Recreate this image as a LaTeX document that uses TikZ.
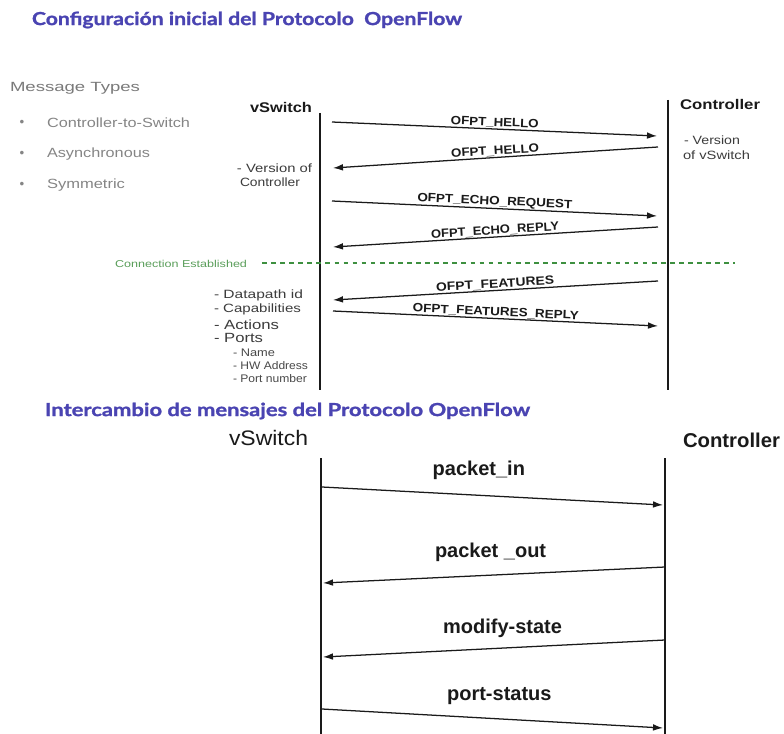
\documentclass[tikz,border=0pt]{standalone}
\usepackage{graphicx}
\usepackage{fontspec}
\setmainfont{Liberation Sans}
\newfontfamily\headfont{Lato}[BoldFeatures={FakeBold=1.2}]
\usetikzlibrary{arrows.meta}

% 1 px = 0.75 pt; \fitw stretches a text to a given width in px, height kept
\newdimen\pxu \pxu=0.75pt
\newcommand\fitw[2]{\resizebox{#1\pxu}{\height}{#2}}

\definecolor{titleblue}{HTML}{4A44B2}
\definecolor{mtgray}{HTML}{7A7A7A}
\definecolor{itemgray}{HTML}{858585}
\definecolor{estgreen}{HTML}{5A9E5A}
\definecolor{dotgreen}{HTML}{3E9040}
\definecolor{ink}{HTML}{1A1A1A}

\begin{document}
\begin{tikzpicture}[x=0.75pt,y=-0.75pt,
  txt/.style={inner sep=0pt, outer sep=0pt},
  heading/.style={txt, anchor=west, text=titleblue,
    font=\headfont\bfseries\fontsize{13.5}{15}\selectfont},
  graytxt/.style={txt, anchor=west, text=mtgray, font=\fontsize{10}{11}\selectfont},
  itemtxt/.style={txt, anchor=west, text=itemgray, font=\fontsize{10}{11}\selectfont},
  bulletdot/.style={txt, text=itemgray, font=\fontsize{10}{11}\selectfont},
  actor/.style={txt, text=ink, font=\bfseries\fontsize{10.5}{12}\selectfont},
  note/.style={txt, text=ink!85, font=\fontsize{9}{10}\selectfont},
  bignote/.style={txt, anchor=west, text=ink!85, font=\fontsize{10}{11}\selectfont},
  subnote/.style={txt, anchor=west, text=ink!80, font=\fontsize{8.25}{9}\selectfont},
  lifetop/.style={line width=1.9pt, ink},
  msgtop/.style={line width=0.95pt, ink, -{Latex[length=7.5pt,width=5pt]}},
  toplbl/.style={midway, sloped, above=0.5pt, inner sep=0pt, text=ink,
    font=\bfseries\fontsize{9}{10}\selectfont},
  lifebot/.style={line width=0.9pt, ink},
  msgbot/.style={line width=0.95pt, ink, -{Latex[length=7.5pt,width=5pt]}},
  botlbl/.style={inner sep=0pt, text=ink, font=\bfseries\fontsize{15}{17}\selectfont},
]
\useasboundingbox (0,0) rectangle (784,734);
\fill[white] (0,0) rectangle (784,734);

% ---------------- initial configuration ----------------
\node[heading] (title1) at (32,20) {\fitw{430}{Configuración inicial del Protocolo\ \ OpenFlow}};

\node[graytxt] (mtypes) at (10,88) {\fitw{130}{Message Types}};
\node[bulletdot] (b1) at (22,123) {\textbullet};
\node[bulletdot] (b2) at (22,154) {\textbullet};
\node[bulletdot] (b3) at (22,185) {\textbullet};
\node[itemtxt] (it1) at (47,123) {\fitw{143}{Controller-to-Switch}};
\node[itemtxt] (it2) at (47,154) {\fitw{103}{Asynchronous}};
\node[itemtxt] (it3) at (47,185) {\fitw{78}{Symmetric}};

\node[actor, anchor=east] (vsw1) at (312,107) {\fitw{62}{vSwitch}};
\node[actor, anchor=west] (ctl1) at (680,104) {\fitw{80}{Controller}};

\node[note, anchor=west] (vv1) at (684,140) {\fitw{56}{- Version}};
\node[note, anchor=west] (vv2) at (683,155) {\fitw{67}{of vSwitch}};
\node[note, anchor=east] (vc1) at (312,168) {\fitw{75}{- Version of}};
\node[note, anchor=west] (vc2) at (240,182) {\fitw{60}{Controller}};

% lifelines
\coordinate (vs1top) at (320,113);
\coordinate (vs1bot) at (320,390);
\coordinate (ct1top) at (668,100);
\coordinate (ct1bot) at (668,390);
\draw[lifetop] (vs1top) -- (vs1bot);
\draw[lifetop] (ct1top) -- (ct1bot);

% message end points
\coordinate (m1s) at (332,122); \coordinate (m1e) at (657,136);
\coordinate (m2s) at (658,147); \coordinate (m2e) at (333,168);
\coordinate (m3s) at (332,201); \coordinate (m3e) at (657,216);
\coordinate (m4s) at (658,227); \coordinate (m4e) at (333,247);
\coordinate (m5s) at (658,281); \coordinate (m5e) at (333,300);
\coordinate (m6s) at (333,311); \coordinate (m6e) at (658,326);

\draw[msgtop] (m1s) -- node[toplbl] {\fitw{88}{OFPT\_HELLO}} (m1e);
\draw[msgtop] (m2s) -- node[toplbl] {\fitw{88}{OFPT\_HELLO}} (m2e);
\draw[msgtop] (m3s) -- node[toplbl] {\fitw{155}{OFPT\_ECHO\_REQUEST}} (m3e);
\draw[msgtop] (m4s) -- node[toplbl] {\fitw{128}{OFPT\_ECHO\_REPLY}} (m4e);
\draw[msgtop] (m5s) -- node[toplbl] {\fitw{118}{OFPT\_FEATURES}} (m5e);
\draw[msgtop] (m6s) -- node[toplbl] {\fitw{166}{OFPT\_FEATURES\_REPLY}} (m6e);

% connection established
\node[txt, anchor=west, text=estgreen, font=\fontsize{7.5}{8.5}\selectfont] (conn) at (115,264)
  {\fitw{132}{Connection Established}};
\coordinate (dotL) at (262,263);
\coordinate (dotR) at (735,263);
\draw[dotgreen, line width=2pt, dash pattern=on 3.5pt off 3.3pt] (dotL) -- (dotR);

% features list
\node[note, anchor=west] (f1) at (214,295) {\fitw{89}{- Datapath id}};
\node[note, anchor=west] (f2) at (214,309) {\fitw{87}{- Capabilities}};
\node[bignote] (f3) at (214,325) {\fitw{65}{- Actions}};
\node[bignote] (f4) at (214,338) {\fitw{49}{- Ports}};
\node[subnote] (f5) at (233,353) {\fitw{42}{- Name}};
\node[subnote] (f6) at (233,366) {\fitw{75}{- HW Address}};
\node[subnote] (f7) at (233,379) {\fitw{74}{- Port number}};

% ---------------- message exchange ----------------
\node[heading] (title2) at (45,411) {\fitw{485}{Intercambio de mensajes del Protocolo OpenFlow}};

\node[txt, anchor=west, text=ink, font=\fontsize{15.75}{18}\selectfont] (vsw2) at (229,438) {\fitw{79}{vSwitch}};
\node[txt, anchor=west, text=ink, font=\bfseries\fontsize{15}{17}\selectfont] (ctl2) at (683,440) {\fitw{97}{Controller}};

\coordinate (vs2top) at (321,458);
\coordinate (vs2bot) at (321,734);
\coordinate (ct2top) at (665,458);
\coordinate (ct2bot) at (665,734);
\draw[lifebot] (vs2top) -- (vs2bot);
\draw[lifebot] (ct2top) -- (ct2bot);

\coordinate (p1s) at (322,487); \coordinate (p1e) at (663,505);
\coordinate (p2s) at (665,567); \coordinate (p2e) at (323,583);
\coordinate (p3s) at (665,640); \coordinate (p3e) at (323,657);
\coordinate (p4s) at (322,709); \coordinate (p4e) at (663,728);

\draw[msgbot] (p1s) -- node[botlbl, pos=0.46, above=11.5pt] {packet\_in} (p1e);
\draw[msgbot] (p2s) -- node[botlbl, pos=0.51, above=10pt] {packet \_out} (p2e);
\draw[msgbot] (p3s) -- node[botlbl, pos=0.475, above=7.5pt] {modify-state} (p3e);
\draw[msgbot] (p4s) -- node[botlbl, pos=0.52, above=10pt] {port-status} (p4e);
\end{tikzpicture}
\end{document}
